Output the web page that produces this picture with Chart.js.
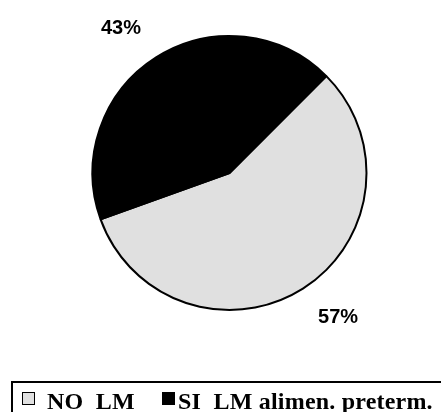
<!DOCTYPE html>
<html>
<head>
<meta charset="utf-8">
<script src="https://cdn.jsdelivr.net/npm/chart.js@4"></script>
<style>
    html, body { margin: 0; padding: 0; background: #fff; }
    #wrap { position: relative; width: 441px; height: 412px; overflow: hidden; }
    #legend {
        position: absolute; left: 11px; top: 381px; width: 440px; height: 60px;
        border: 2px solid #000; box-sizing: border-box;
        font-family: "Liberation Serif", "Times New Roman", serif; font-weight: bold;
        font-size: 24px; letter-spacing: 0.2px; color: #000; white-space: pre;
    }
    .item { position: absolute; top: 5px; line-height: 26px; }
    .box { position: absolute; width: 11px; height: 11px; }
</style>
</head>
<body>
<div id="wrap">
    <canvas id="pie" width="441" height="412"></canvas>
    <div id="legend"></div>
</div>
<script>
// Chart data
const labels = ["NO  LM", "SI  LM alimen. preterm."];
const values = [57, 43];
const colors = ["#e0e0e0", "#000000"];

// Percent labels drawn outside each slice
const outsideLabels = {
    id: "outsideLabels",
    afterDatasetsDraw(chart) {
        const ctx = chart.ctx;
        const total = values.reduce((a, b) => a + b, 0);
        ctx.save();
        ctx.font = "bold 20px 'Liberation Sans', Arial, sans-serif";
        ctx.fillStyle = "#000";
        ctx.textAlign = "center";
        ctx.textBaseline = "middle";
        chart.getDatasetMeta(0).data.forEach((arc, i) => {
            // slightly counter-clockwise of the slice middle, like the original
            const mid = (arc.startAngle + arc.endAngle) / 2 - 4.5 * Math.PI / 180;
            const r = arc.outerRadius * 1.32;
            const pct = Math.round(values[i] / total * 100) + "%";
            ctx.fillText(pct, arc.x + Math.cos(mid) * r, arc.y + Math.sin(mid) * r);
        });
        ctx.restore();
    }
};

new Chart(document.getElementById("pie"), {
    type: "pie",
    data: {
        labels: labels,
        datasets: [{
            data: values,
            backgroundColor: colors,
            borderColor: "#000",
            borderWidth: 2
        }]
    },
    options: {
        responsive: false,
        animation: false,
        rotation: 45,
        layout: { padding: { left: 91, right: 73, top: 35, bottom: 101 } },
        plugins: {
            legend: { display: false },
            tooltip: { enabled: false }
        }
    },
    plugins: [outsideLabels]
});

// HTML legend
const legend = document.getElementById("legend");
const boxX = [9, 149];
const textX = [34, 165];
labels.forEach((label, i) => {
    const item = document.createElement("div");
    item.className = "item";
    item.style.left = textX[i] + "px";
    item.textContent = label;
    const box = document.createElement("div");
    box.className = "box";
    box.style.left = boxX[i] + "px";
    box.style.top = "9px";
    box.style.background = colors[i];
    box.style.border = "1px solid #000";
    legend.appendChild(box);
    legend.appendChild(item);
});
</script>
</body>
</html>
